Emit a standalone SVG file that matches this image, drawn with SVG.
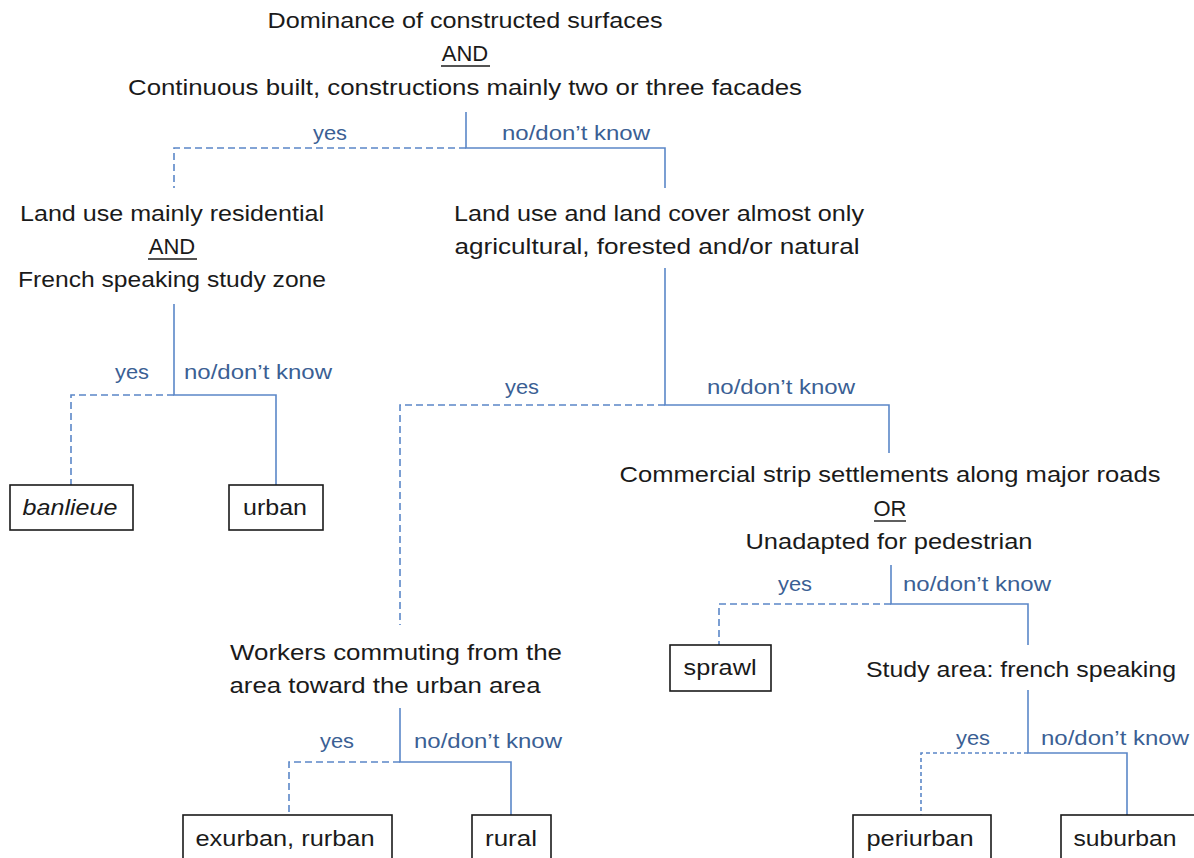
<svg xmlns="http://www.w3.org/2000/svg" width="1194" height="858" viewBox="0 0 1194 858">
<style>
text{font-family:"Liberation Sans",Arial,sans-serif;}
.t{font-size:22px;fill:#1a1a1a;text-anchor:middle;}
.l{font-size:20px;fill:#3b5f94;text-anchor:middle;}
.box{fill:#fff;stroke:#1a1a1a;stroke-width:1.6;}
.s{stroke:#5b87c8;stroke-width:1.6;fill:none;}
.d{stroke:#5b87c8;stroke-width:1.6;fill:none;stroke-dasharray:7 4;}
.dd{stroke:#5b87c8;stroke-width:1.6;fill:none;stroke-dasharray:4 3;}
.u{stroke:#1a1a1a;stroke-width:1.4;}
</style>
<rect width="1194" height="858" fill="#fff"/>
<g id="connectors">
<path class="s" d="M466 112V148H665V188"/>
<path class="d" d="M466 148H174V188"/>
<path class="s" d="M174 304V395H276V485"/>
<path class="d" d="M174 395H71V485"/>
<path class="s" d="M665 268V405H889V453"/>
<path class="d" d="M665 405H400V625"/>
<path class="s" d="M891 565V604H1028V645"/>
<path class="d" d="M891 604H719V645"/>
<path class="s" d="M1028 690V753H1127V815"/>
<path class="dd" d="M1028 753H921V815"/>
<path class="s" d="M400 708V762H511V815"/>
<path class="d" d="M400 762H289V815"/>
<text class="l" x="330" y="140" textLength="34" lengthAdjust="spacingAndGlyphs">yes</text>
<text class="l" x="576" y="140" textLength="148" lengthAdjust="spacingAndGlyphs">no/don’t know</text>
<text class="l" x="132" y="379" textLength="34" lengthAdjust="spacingAndGlyphs">yes</text>
<text class="l" x="258" y="379" textLength="148" lengthAdjust="spacingAndGlyphs">no/don’t know</text>
<text class="l" x="522" y="394" textLength="34" lengthAdjust="spacingAndGlyphs">yes</text>
<text class="l" x="781" y="394" textLength="148" lengthAdjust="spacingAndGlyphs">no/don’t know</text>
<text class="l" x="795" y="591" textLength="34" lengthAdjust="spacingAndGlyphs">yes</text>
<text class="l" x="977" y="591" textLength="148" lengthAdjust="spacingAndGlyphs">no/don’t know</text>
<text class="l" x="337" y="748" textLength="34" lengthAdjust="spacingAndGlyphs">yes</text>
<text class="l" x="488" y="748" textLength="148" lengthAdjust="spacingAndGlyphs">no/don’t know</text>
<text class="l" x="973" y="745" textLength="34" lengthAdjust="spacingAndGlyphs">yes</text>
<text class="l" x="1115" y="745" textLength="148" lengthAdjust="spacingAndGlyphs">no/don’t know</text>
</g>
<g id="n-root">
<text class="t" x="465" y="28" textLength="395" lengthAdjust="spacingAndGlyphs">Dominance of constructed surfaces</text>
<text class="t" x="465" y="61">AND</text>
<line class="u" x1="441" y1="66" x2="490" y2="66"/>
<text class="t" x="465" y="95" textLength="674" lengthAdjust="spacingAndGlyphs">Continuous built, constructions mainly two or three facades</text>
</g>
<g id="n-residential">
<text class="t" x="172" y="221" textLength="304" lengthAdjust="spacingAndGlyphs">Land use mainly residential</text>
<text class="t" x="172" y="254">AND</text>
<line class="u" x1="148" y1="259" x2="197" y2="259"/>
<text class="t" x="172" y="287" textLength="308" lengthAdjust="spacingAndGlyphs">French speaking study zone</text>
</g>
<g id="n-landcover">
<text class="t" x="659" y="221" textLength="410" lengthAdjust="spacingAndGlyphs">Land use and land cover almost only</text>
<text class="t" x="657" y="254" textLength="405" lengthAdjust="spacingAndGlyphs">agricultural, forested and/or natural</text>
</g>
<g id="n-banlieue">
<rect class="box" x="10" y="485" width="123" height="45"/>
<text class="t" x="70" y="515" font-style="italic" textLength="95" lengthAdjust="spacingAndGlyphs">banlieue</text>
</g>
<g id="n-urban">
<rect class="box" x="229" y="485" width="94" height="45"/>
<text class="t" x="275" y="515" textLength="64" lengthAdjust="spacingAndGlyphs">urban</text>
</g>
<g id="n-commercial">
<text class="t" x="890" y="482" textLength="541" lengthAdjust="spacingAndGlyphs">Commercial strip settlements along major roads</text>
<text class="t" x="890" y="516">OR</text>
<line class="u" x1="874" y1="521" x2="906" y2="521"/>
<text class="t" x="889" y="549" textLength="287" lengthAdjust="spacingAndGlyphs">Unadapted for pedestrian</text>
</g>
<g id="n-sprawl">
<rect class="box" x="670" y="645" width="101" height="46"/>
<text class="t" x="720" y="675" textLength="73" lengthAdjust="spacingAndGlyphs">sprawl</text>
</g>
<g id="n-study">
<text class="t" x="1021" y="677" textLength="310" lengthAdjust="spacingAndGlyphs">Study area: french speaking</text>
</g>
<g id="n-workers">
<text class="t" x="396" y="660" textLength="332" lengthAdjust="spacingAndGlyphs">Workers commuting from the</text>
<text class="t" x="385" y="693" textLength="311" lengthAdjust="spacingAndGlyphs">area toward the urban area</text>
</g>
<g id="n-exurban">
<rect class="box" x="183" y="815" width="209" height="50"/>
<text class="t" x="285" y="846" textLength="179" lengthAdjust="spacingAndGlyphs">exurban, rurban</text>
</g>
<g id="n-rural">
<rect class="box" x="472" y="815" width="79" height="50"/>
<text class="t" x="511" y="846" textLength="52" lengthAdjust="spacingAndGlyphs">rural</text>
</g>
<g id="n-periurban">
<rect class="box" x="853" y="815" width="138" height="50"/>
<text class="t" x="920" y="846" textLength="107" lengthAdjust="spacingAndGlyphs">periurban</text>
</g>
<g id="n-suburban">
<rect class="box" x="1061" y="815" width="140" height="50"/>
<text class="t" x="1125" y="846" textLength="103" lengthAdjust="spacingAndGlyphs">suburban</text>
</g>
</svg>
